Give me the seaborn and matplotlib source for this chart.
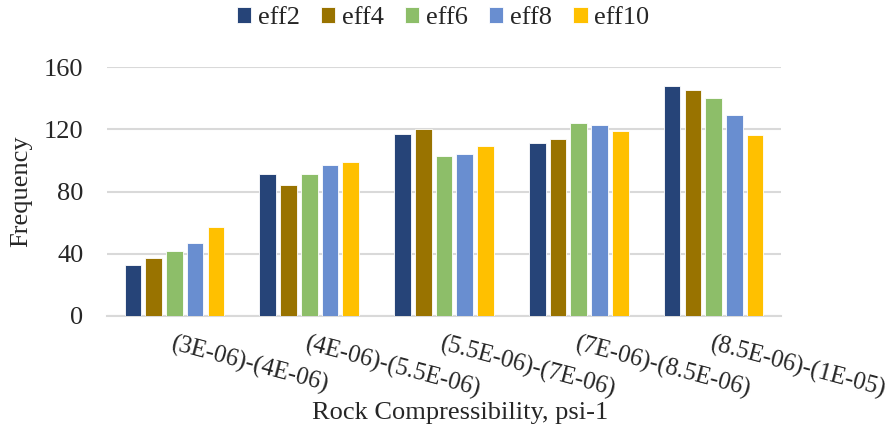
import matplotlib
matplotlib.use("Agg")
import matplotlib.pyplot as plt
import seaborn as sns
import pandas as pd

categories = ["(3E-06)-(4E-06)", "(4E-06)-(5.5E-06)", "(5.5E-06)-(7E-06)",
              "(7E-06)-(8.5E-06)", "(8.5E-06)-(1E-05)"]
series_names = ["eff2", "eff4", "eff6", "eff8", "eff10"]
eff2 = [33, 91, 117, 111, 148]
eff4 = [37, 84, 120, 114, 145]
eff6 = [42, 91, 103, 124, 140]
eff8 = [47, 97, 104, 123, 129]
eff10 = [57, 99, 109, 119, 116]
yticks = [0, 40, 80, 120, 160]
colors = ["#264478", "#997300", "#8DBE69", "#698ED0", "#FFC000"]

values = {"eff2": eff2, "eff4": eff4, "eff6": eff6, "eff8": eff8, "eff10": eff10}
rows = []
for s in series_names:
    for c, v in zip(categories, values[s]):
        rows.append({"cat": c, "series": s, "freq": v})
df = pd.DataFrame(rows)

sns.set_style("white")
plt.rcParams["font.family"] = ["Liberation Serif", "DejaVu Serif"]
FS = 19

fig = plt.figure(figsize=(8.92, 4.37), dpi=100)
ax = fig.add_axes([107 / 892, 1 - 316 / 437, 674 / 892, 249 / 437])

sns.barplot(data=df, x="cat", y="freq", hue="series", order=categories,
            hue_order=series_names, palette=colors, saturation=1, width=0.77, gap=0.2,
            edgecolor="white", linewidth=0.6, ax=ax, legend=True, zorder=3)

ax.set_ylim(0, 160)
ax.set_xlim(-0.5, len(categories) - 0.5)
ax.set_yticks(yticks)
ax.set_yticklabels([str(t) for t in yticks], fontsize=FS)
ax.yaxis.grid(True, color="#D9D9D9", linewidth=1.5, zorder=0)
ax.set_axisbelow(True)
for sp in ["top", "right", "left"]:
    ax.spines[sp].set_visible(False)
ax.spines["bottom"].set_color("#D9D9D9")
ax.spines["bottom"].set_linewidth(1.5)
ax.tick_params(axis="y", length=0, pad=17)
ax.tick_params(axis="x", length=0, pad=12)

ax.set_xticks(range(len(categories)))
ax.set_xticklabels(categories, fontsize=17.8, rotation=-15, ha="left", va="top",
                   rotation_mode="anchor")

ax.set_xlabel("")
ax.set_ylabel("Frequency", fontsize=FS, labelpad=8)
fig.text(460 / 892, 1 - 413 / 437, "Rock Compressibility, psi-1", fontsize=FS,
         ha="center", va="center")

ax.get_legend().remove()
handles, labels = ax.get_legend_handles_labels()
fig.legend(handles, labels, loc="center", bbox_to_anchor=(443 / 892, 1 - 18 / 437),
           ncol=5, frameon=False, fontsize=FS, handlelength=0.55, handleheight=0.55,
           handletextpad=0.25, columnspacing=0.8, borderaxespad=0)

fig.savefig("out.png", dpi=100)
